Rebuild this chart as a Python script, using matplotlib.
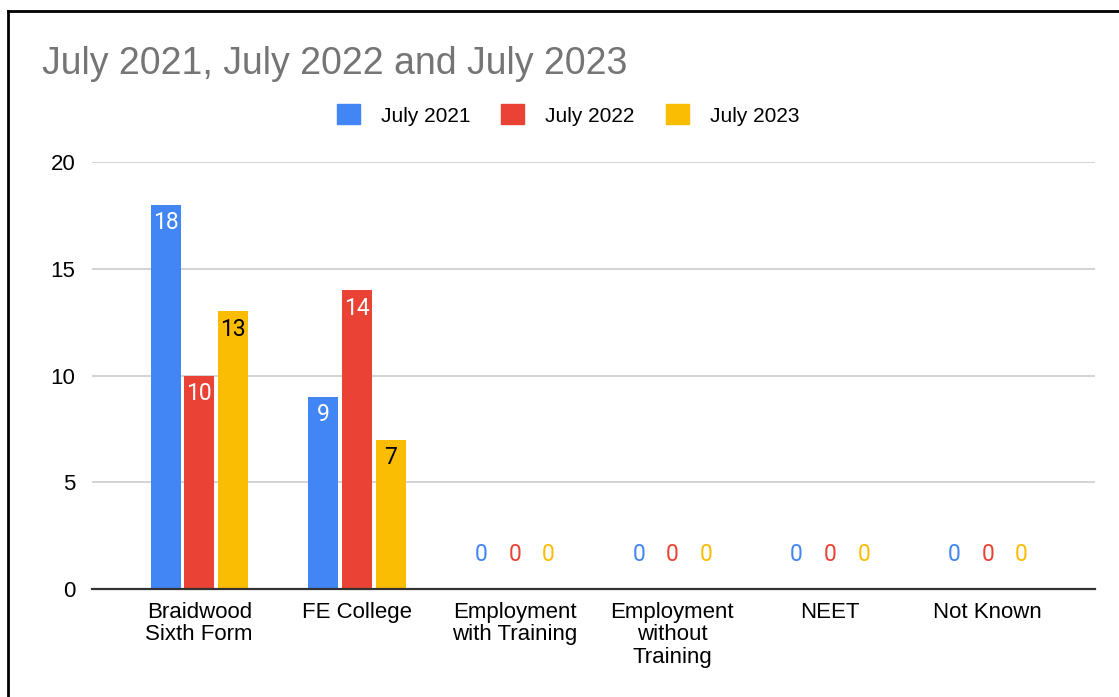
import numpy as np
import matplotlib.pyplot as plt
from matplotlib.lines import Line2D
from matplotlib.patches import Patch

plt.rcParams['font.family'] = ['Liberation Sans', 'DejaVu Sans']

categories = ["Braidwood\nSixth Form", "FE College", "Employment\nwith Training",
              "Employment\nwithout\nTraining", "NEET", "Not Known"]
series = ["July 2021", "July 2022", "July 2023"]
july_2021 = [18, 9, 0, 0, 0, 0]
july_2022 = [10, 14, 0, 0, 0, 0]
july_2023 = [13, 7, 0, 0, 0, 0]
colors = ["#4285F4", "#EA4335", "#FBBC04"]
label_colors = ["white", "white", "black"]

fig = plt.figure(figsize=(11.19, 6.97), dpi=100)
ax = fig.add_axes([0.0822, 0.1549, 0.8964, 0.6127])

x = np.arange(len(categories))
width = 0.19
step = 0.213

for i, (vals, col) in enumerate(zip([july_2021, july_2022, july_2023], colors)):
    pos = x + (i - 1) * step
    ax.bar(pos, vals, width, color=col, zorder=3)
    for p, v in zip(pos, vals):
        if v > 0:
            ax.text(p, v - 0.3, str(v), ha='center', va='top', fontsize=16.5,
                    color=label_colors[i], family=['Roboto', 'DejaVu Sans'], zorder=4)
        else:
            ax.text(p, 1.6, str(v), ha='center', va='center', fontsize=16.5,
                    color=col, family=['Roboto', 'DejaVu Sans'], zorder=4)

ax.set_xlim(-0.68, 5.68)
ax.set_ylim(0, 20)
ax.set_yticks([0, 5, 10, 15, 20])
ax.set_xticks(x)
ax.set_xticklabels(categories, fontsize=16, linespacing=1.1)
ax.tick_params(axis='y', labelsize=16, length=0, pad=12)
ax.tick_params(axis='x', length=0, pad=9)
ax.grid(axis='y', color='#cccccc', linewidth=1.2, zorder=0)
for s in ['top', 'right', 'left']:
    ax.spines[s].set_visible(False)
ax.spines['bottom'].set_color('#333333')
ax.spines['bottom'].set_linewidth(1.6)
ax.spines['bottom'].set_zorder(5)

fig.text(42 / 1119, 1 - 64 / 697, "July 2021, July 2022 and July 2023",
         fontsize=27, color='#757575', ha='left', va='center')

handles = [Patch(facecolor=c, edgecolor=c) for c in colors]
fig.legend(handles, series, loc='center', bbox_to_anchor=(568 / 1119, 1 - 115 / 697),
           ncol=3, frameon=False, fontsize=15, handlelength=1.1, handleheight=1.1,
           columnspacing=1.5, handletextpad=1.0)

# black border of the screenshot (left and top)
fig.add_artist(Line2D([8 / 1119, 8 / 1119], [0, 1 - 11 / 697], color='black',
                      linewidth=2, transform=fig.transFigure))
fig.add_artist(Line2D([8 / 1119, 1], [1 - 11 / 697, 1 - 11 / 697], color='black',
                      linewidth=2, transform=fig.transFigure))

plt.savefig("out.png", dpi=100)
